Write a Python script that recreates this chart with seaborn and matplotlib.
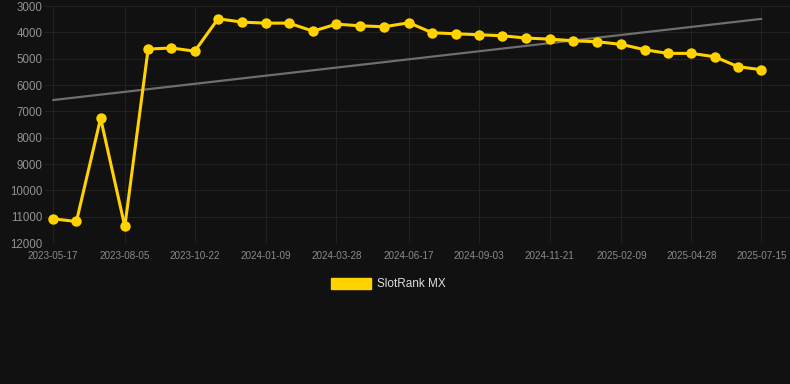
import numpy as np
import pandas as pd
import matplotlib
matplotlib.use("Agg")
import matplotlib.pyplot as plt
import matplotlib.dates as mdates
from matplotlib.patches import Patch
import seaborn as sns

# ------------------------------------------------------------
# data
# ------------------------------------------------------------
dates = [
    "2023-05-17", "2023-06-12", "2023-07-09", "2023-08-05", "2023-08-31",
    "2023-09-26", "2023-10-22", "2023-11-17", "2023-12-14", "2024-01-09",
    "2024-02-04", "2024-03-02", "2024-03-28", "2024-04-23", "2024-05-20",
    "2024-06-17", "2024-07-13", "2024-08-08", "2024-09-03", "2024-09-29",
    "2024-10-26", "2024-11-21", "2024-12-17", "2025-01-13", "2025-02-09",
    "2025-03-07", "2025-04-02", "2025-04-28", "2025-05-24", "2025-06-19",
    "2025-07-15",
]
rank = [
    11080, 11180, 7260, 11370, 4630,
    4590, 4710, 3480, 3607, 3645,
    3645, 3950, 3683, 3746, 3784,
    3632, 4011, 4049, 4087, 4125,
    4214, 4252, 4315, 4353, 4454,
    4656, 4795, 4795, 4922, 5300,
    5415,
]
tick_dates = ["2023-05-17", "2023-08-05", "2023-10-22", "2024-01-09", "2024-03-28",
              "2024-06-17", "2024-09-03", "2024-11-21", "2025-02-09", "2025-04-28",
              "2025-07-15"]
y_ticks = [3000, 4000, 5000, 6000, 7000, 8000, 9000, 10000, 11000, 12000]
series_name = "SlotRank MX"

BG = "#111111"
YELLOW = "#FFD200"

df = pd.DataFrame({"date": pd.to_datetime(dates), "rank": rank})

# linear trend over the series
xnum = mdates.date2num(df["date"])
coef = np.polyfit(xnum, df["rank"], 1)
trend = pd.DataFrame({"date": df["date"].iloc[[0, -1]],
                      "rank": np.polyval(coef, xnum[[0, -1]])})

# ------------------------------------------------------------
# plot
# ------------------------------------------------------------
sns.set_theme(style="dark")
plt.rcParams["font.family"] = ["Liberation Sans", "DejaVu Sans"]

fig = plt.figure(figsize=(7.9, 3.84), dpi=100, facecolor=BG)
ax = fig.add_axes([0.057, 0.367, 0.943, 0.617])
ax.set_facecolor(BG)

sns.lineplot(data=trend, x="date", y="rank", ax=ax, color="#6e6e6e", linewidth=1.6)
sns.lineplot(data=df, x="date", y="rank", ax=ax, color=YELLOW, linewidth=2.2,
             marker="o", markersize=7.5, markeredgewidth=0, markeredgecolor=YELLOW)

ax.set_ylim(12000, 3000)
ax.set_yticks(y_ticks)
ax.set_yticklabels([str(v) for v in y_ticks])

tks = pd.to_datetime(tick_dates)
ax.set_xticks(tks)
ax.set_xticklabels(tick_dates)
ax.set_xlim(df["date"].iloc[0] - pd.Timedelta(days=9), df["date"].iloc[-1] + pd.Timedelta(days=32))

ax.grid(True, color="#222222", linewidth=0.8)
for s in ax.spines.values():
    s.set_visible(False)
ax.axhline(12000, color="#2a2a2a", linewidth=0.8)
ax.tick_params(axis="y", colors="#929292", labelsize=8.3, length=0, pad=2)
ax.tick_params(axis="x", colors="#2a2a2a", labelcolor="#8a8a8a", labelsize=7.1,
               length=4, width=0.8, pad=2)
ax.set_xlabel("")
ax.set_ylabel("")

fig.legend(handles=[Patch(facecolor=YELLOW, edgecolor=YELLOW, label=series_name)],
           loc="center", bbox_to_anchor=(0.492, 0.26), frameon=False,
           handlelength=3.4, handleheight=1.0, fontsize=8.5, labelcolor="#dddddd",
           handletextpad=0.5)

plt.savefig("out.png", dpi=100, facecolor=BG)
